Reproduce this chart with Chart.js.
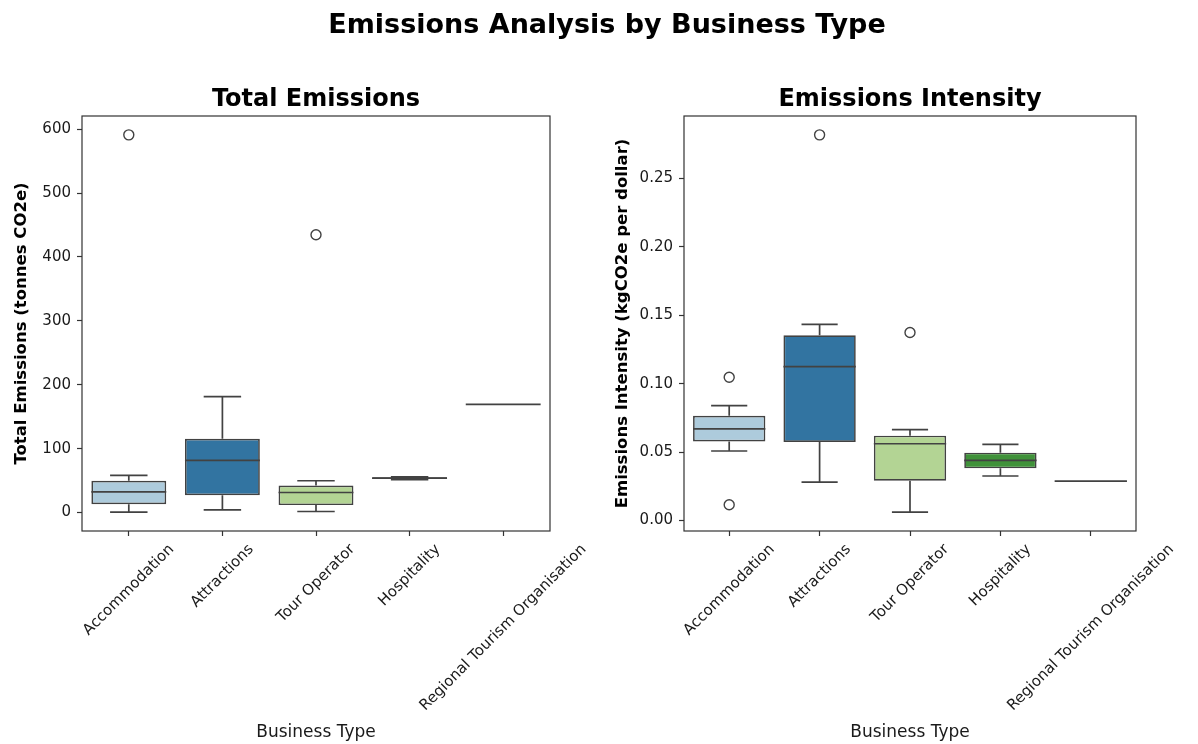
<!DOCTYPE html>
<html>
<head>
<meta charset="utf-8">
<script src="https://cdn.jsdelivr.net/npm/chart.js@4.4.1/dist/chart.umd.min.js"></script>
<style>
  body { margin: 0; background: #fff; width: 1198px; height: 744px; overflow: hidden; position: relative; font-family: "DejaVu Sans", sans-serif; }
  #suptitle { position: absolute; top: 8px; left: 0; width: 1214px; text-align: center; font-weight: bold; font-size: 27px; color: #000; z-index: 2; }
  canvas { position: absolute; top: 0; }
  #totalChart { left: 0; }
  #intensityChart { left: 599px; }
</style>
</head>
<body>
<div id="suptitle">Emissions Analysis by Business Type</div>
<canvas id="totalChart" width="599" height="744"></canvas>
<canvas id="intensityChart" width="599" height="744"></canvas>
<script>
// --- Data ---
const categories = ['Accommodation', 'Attractions', 'Tour Operator', 'Hospitality', 'Regional Tourism Organisation'];
const boxColors = ['#adcbdc', '#3274a1', '#b3d494', '#40923a', '#e1a3a2'];

// Total emissions (tonnes CO2e): whisker low, Q1, median, Q3, whisker high
const totalLow = [0.6, 4.2, 1.6, 51.5, 169.3];
const totalQ1 = [13.1, 27.2, 11.6, 52.5, 169.3];
const totalMedian = [32.4, 81.5, 31.3, 53.8, 169.3];
const totalQ3 = [49.7, 115.5, 42.3, 55.0, 169.3];
const totalHigh = [58.0, 181.3, 49.7, 56.0, 169.3];
const totalOutlierCats = ['Accommodation', 'Tour Operator'];
const totalOutliers = [591, 434.8];
const totalTicks = [0, 100, 200, 300, 400, 500, 600];
const totalTickLabels = ['0', '100', '200', '300', '400', '500', '600'];

// Emissions intensity (kgCO2e per dollar)
const intLow = [0.0508, 0.0281, 0.0061, 0.0325, 0.0288];
const intQ1 = [0.0578, 0.0574, 0.0291, 0.0381, 0.0288];
const intMedian = [0.0669, 0.1125, 0.0561, 0.0439, 0.0288];
const intQ3 = [0.0766, 0.1354, 0.0620, 0.0496, 0.0288];
const intHigh = [0.0840, 0.1433, 0.0664, 0.0556, 0.0288];
const intOutlierCats = ['Accommodation', 'Accommodation', 'Attractions', 'Tour Operator'];
const intOutliers = [0.1047, 0.0115, 0.2819, 0.1374];
const intTicks = [0, 0.05, 0.10, 0.15, 0.20, 0.25];
const intTickLabels = ['0.00', '0.05', '0.10', '0.15', '0.20', '0.25'];

const FONT = '"DejaVu Sans", sans-serif';
const LINE = '#424242';

// whiskers, caps, medians, frame, subplot title and rotated x labels
function boxPlugin(low, median, high, title) {
  return {
    id: 'boxExtras',
    afterDatasetsDraw(chart) {
      const ctx = chart.ctx;
      const y = chart.scales.y;
      const bars = chart.getDatasetMeta(0).data;
      ctx.save();
      ctx.strokeStyle = LINE;
      ctx.lineWidth = 1.7;
      bars.forEach((bar, i) => {
        const cx = bar.x, half = bar.width / 2;
        const top = Math.min(bar.y, bar.base), bottom = Math.max(bar.y, bar.base);
        const yLo = y.getPixelForValue(low[i]);
        const yHi = y.getPixelForValue(high[i]);
        const yMed = y.getPixelForValue(median[i]);
        ctx.beginPath();
        ctx.moveTo(cx, top); ctx.lineTo(cx, yHi);
        ctx.moveTo(cx - half / 2, yHi); ctx.lineTo(cx + half / 2, yHi);
        ctx.moveTo(cx, bottom); ctx.lineTo(cx, yLo);
        ctx.moveTo(cx - half / 2, yLo); ctx.lineTo(cx + half / 2, yLo);
        ctx.moveTo(cx - half, yMed); ctx.lineTo(cx + half, yMed);
        ctx.stroke();
      });
      ctx.restore();
    },
    afterDraw(chart) {
      const ctx = chart.ctx;
      const a = chart.chartArea;
      const x = chart.scales.x;
      ctx.save();
      ctx.strokeStyle = '#333';
      ctx.lineWidth = 1.2;
      ctx.strokeRect(a.left, a.top, a.right - a.left, a.bottom - a.top);
      // subplot title
      ctx.fillStyle = '#000';
      ctx.font = 'bold 24px ' + FONT;
      ctx.textAlign = 'center';
      ctx.textBaseline = 'alphabetic';
      ctx.fillText(title, (a.left + a.right) / 2, 106);
      // rotated category labels, centred on their ticks
      ctx.font = '15px ' + FONT;
      ctx.fillStyle = '#1a1a1a';
      ctx.textBaseline = 'middle';
      categories.forEach((c, i) => {
        const px = x.getPixelForTick(i);
        const w = ctx.measureText(c).width;
        const side = (w + 17) * Math.SQRT1_2;
        ctx.save();
        ctx.translate(px, a.bottom + 10 + side / 2);
        ctx.rotate(-Math.PI / 4);
        ctx.fillText(c, 0, 0);
        ctx.restore();
      });
      ctx.restore();
    }
  };
}

function makeChart(canvasId, s) {
  const all = s.low.concat(s.high, s.outliers);
  const dMin = Math.min(...all), dMax = Math.max(...all);
  const pad = (dMax - dMin) * 0.05;
  return new Chart(document.getElementById(canvasId), {
    type: 'bar',
    data: {
      labels: categories,
      datasets: [{
        data: categories.map((_, i) => [s.q1[i], s.q3[i]]),
        backgroundColor: boxColors,
        borderColor: LINE,
        borderWidth: 1.7,
        borderSkipped: false,
        barPercentage: 0.8,
        categoryPercentage: 1.0
      }, {
        type: 'scatter',
        data: s.outlierCats.map((c, i) => ({ x: c, y: s.outliers[i] })),
        pointRadius: 5,
        pointBackgroundColor: 'rgba(255,255,255,0)',
        pointBorderColor: LINE,
        pointBorderWidth: 1.4
      }]
    },
    options: {
      responsive: false,
      animation: false,
      layout: { padding: { top: 116, right: s.rightPad, bottom: 0, left: 0 } },
      plugins: { legend: { display: false }, tooltip: { enabled: false } },
      scales: {
        x: {
          type: 'category',
          offset: true,
          ticks: { display: false },
          grid: { drawOnChartArea: false, drawTicks: true, tickLength: 5, color: '#333', tickWidth: 1.2, offset: false },
          border: { display: false },
          title: { display: true, text: 'Business Type', font: { family: FONT, size: 17 }, color: '#1a1a1a', padding: { bottom: 1 } },
          afterFit: sc => { sc.height = 213; }
        },
        y: {
          min: dMin - pad,
          max: dMax + pad,
          afterBuildTicks: sc => { sc.ticks = s.ticks.map(v => ({ value: v })); },
          ticks: { callback: (v, i) => s.tickLabels[i], font: { family: FONT, size: 15 }, color: '#1a1a1a', padding: 6 },
          grid: { drawOnChartArea: false, drawTicks: true, tickLength: 5, color: '#333', tickWidth: 1.2 },
          border: { display: false },
          title: { display: true, text: s.yTitle, font: { family: FONT, size: 16.5, weight: 'bold' }, color: '#000', padding: { top: s.titlePad } },
          afterFit: sc => { sc.width = s.yWidth; }
        }
      }
    },
    plugins: [boxPlugin(s.low, s.median, s.high, s.title)]
  });
}

makeChart('totalChart', {
  low: totalLow, q1: totalQ1, median: totalMedian, q3: totalQ3, high: totalHigh,
  outlierCats: totalOutlierCats, outliers: totalOutliers,
  ticks: totalTicks, tickLabels: totalTickLabels,
  title: 'Total Emissions', yTitle: 'Total Emissions (tonnes CO2e)',
  yWidth: 82, rightPad: 49, titlePad: 12
});

makeChart('intensityChart', {
  low: intLow, q1: intQ1, median: intMedian, q3: intQ3, high: intHigh,
  outlierCats: intOutlierCats, outliers: intOutliers,
  ticks: intTicks, tickLabels: intTickLabels,
  title: 'Emissions Intensity', yTitle: 'Emissions Intensity (kgCO2e per dollar)',
  yWidth: 85, rightPad: 62, titlePad: 14
});
</script>
</body>
</html>
